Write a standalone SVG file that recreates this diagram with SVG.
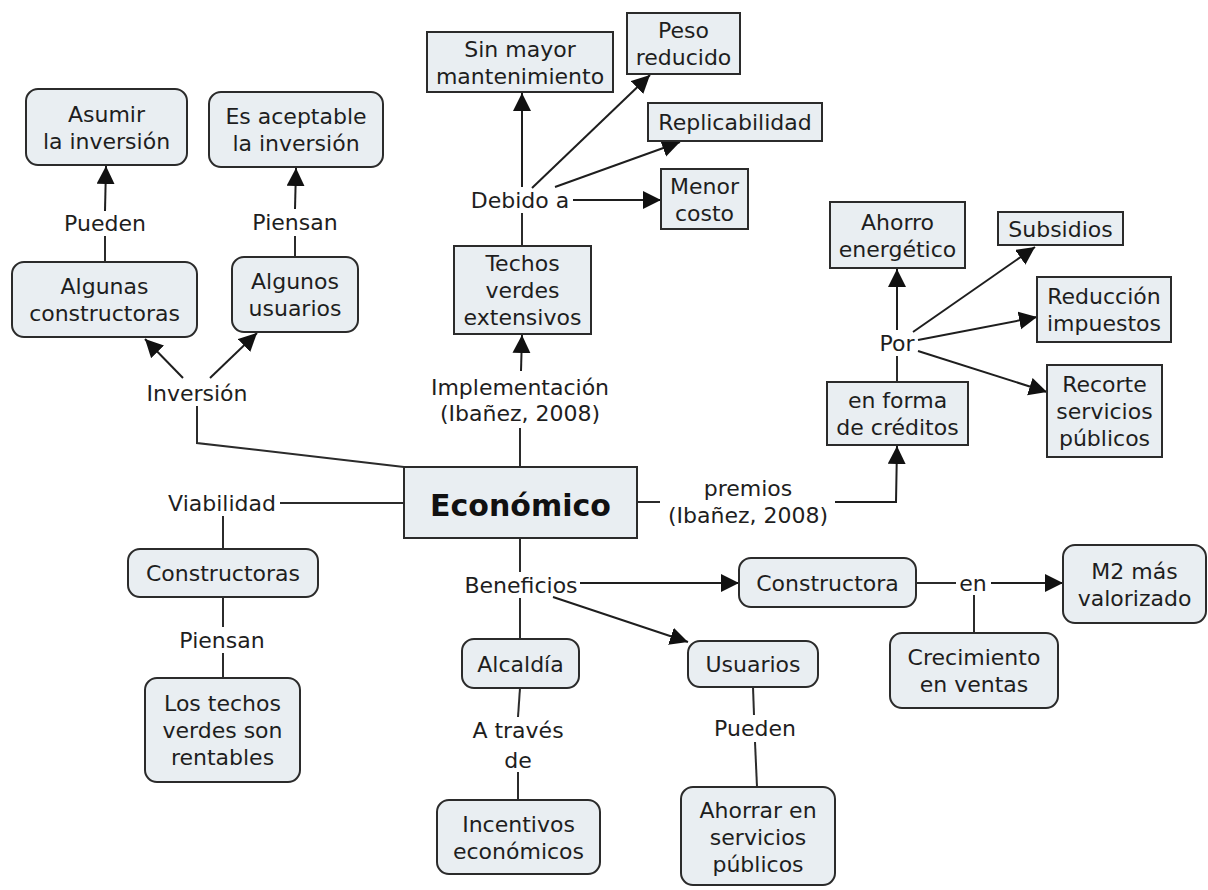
<svg xmlns="http://www.w3.org/2000/svg" width="1208" height="890" viewBox="0 0 1208 890">
<defs>
<marker id="ah" markerUnits="userSpaceOnUse" markerWidth="20" markerHeight="20" refX="18" refY="9" orient="auto">
<path d="M0,0 L18,9 L0,18 z" fill="#111"/>
</marker>
<style>
.bx{fill:#e9eef2;stroke:#2b2b2b;stroke-width:2}
.t{font-family:"DejaVu Sans","Verdana",sans-serif;font-size:22px;fill:#1e1e1e;text-anchor:middle}
.b{font-family:"DejaVu Sans","Verdana",sans-serif;font-size:30px;font-weight:bold;fill:#111;text-anchor:middle}
.ln{fill:none;stroke:#2b2b2b;stroke-width:2}
.ar{fill:none;stroke:#1e1e1e;stroke-width:2;marker-end:url(#ah)}
</style>
</defs>
<rect width="1208" height="890" fill="#fff"/>
<g id="connectors">
<path class="ar" d="M105,211 L106,166"/>
<path class="ln" d="M105,262 L105,236"/>
<path class="ln" d="M295,257 L295,236"/>
<path class="ar" d="M295,209 L296,168"/>
<path class="ar" d="M183,378 L145,339"/>
<path class="ar" d="M210,378 L257,333"/>
<path class="ln" d="M404,467 L197,443 L197,406"/>
<path class="ln" d="M522,246 L522,213"/>
<path class="ar" d="M522,187 L522,93"/>
<path class="ar" d="M532,188 L650,75"/>
<path class="ar" d="M555,187 L680,142"/>
<path class="ar" d="M573,200 L661,200"/>
<path class="ar" d="M521,371 L522,335"/>
<path class="ln" d="M520,467 L520,428"/>
<path class="ln" d="M404,503 L280,503"/>
<path class="ln" d="M223,516 L223,549"/>
<path class="ln" d="M223,597 L223,627"/>
<path class="ln" d="M223,653 L223,678"/>
<path class="ln" d="M520,538 L520,572"/>
<path class="ln" d="M520,598 L520,639"/>
<path class="ar" d="M580,583 L739,583"/>
<path class="ar" d="M553,597 L688,642"/>
<path class="ln" d="M520,688 L518,717"/>
<path class="ln" d="M518,772 L518,800"/>
<path class="ln" d="M753,687 L754,715"/>
<path class="ln" d="M755,742 L757,787"/>
<path class="ln" d="M916,583 L956,583"/>
<path class="ar" d="M991,583 L1063,583"/>
<path class="ln" d="M974,595 L974,633"/>
<path class="ln" d="M637,502 L660,502"/>
<path class="ar" d="M835,502 L896,502 L897,446"/>
<path class="ln" d="M897,382 L897,356"/>
<path class="ar" d="M897,330 L897,269"/>
<path class="ar" d="M913,332 L1035,247"/>
<path class="ar" d="M918,340 L1037,317"/>
<path class="ar" d="M918,351 L1047,392"/>
</g>
<g id="labels">
<text class="t" x="105" y="231">Pueden</text>
<text class="t" x="295" y="230">Piensan</text>
<text class="t" x="197" y="401">Inversión</text>
<text class="t" x="520" y="208">Debido a</text>
<text class="t"><tspan x="520" y="395">Implementación</tspan><tspan x="520" y="421">(Ibañez, 2008)</tspan></text>
<text class="t" x="222" y="511">Viabilidad</text>
<text class="t" x="222" y="648">Piensan</text>
<text class="t" x="521" y="593">Beneficios</text>
<text class="t"><tspan x="518" y="738">A través</tspan><tspan x="518" y="768">de</tspan></text>
<text class="t" x="755" y="736">Pueden</text>
<text class="t" x="973" y="591">en</text>
<text class="t"><tspan x="748" y="496">premios</tspan><tspan x="748" y="523">(Ibañez, 2008)</tspan></text>
<text class="t" x="897" y="351">Por</text>
</g>
<g id="n_asumir"><rect class="bx" x="26" y="89" width="161" height="76" rx="12"/><text class="t"><tspan x="106.5" y="121.5">Asumir</tspan><tspan x="106.5" y="148.5">la inversión</tspan></text></g>
<g id="n_aceptable"><rect class="bx" x="209" y="92" width="174" height="75" rx="12"/><text class="t"><tspan x="296" y="124">Es aceptable</tspan><tspan x="296" y="151">la inversión</tspan></text></g>
<g id="n_algunas"><rect class="bx" x="12" y="262" width="185" height="75" rx="12"/><text class="t"><tspan x="104.5" y="294">Algunas</tspan><tspan x="104.5" y="321">constructoras</tspan></text></g>
<g id="n_algunos"><rect class="bx" x="232" y="257" width="126" height="75" rx="12"/><text class="t"><tspan x="295" y="289">Algunos</tspan><tspan x="295" y="316">usuarios</tspan></text></g>
<g id="n_sinmayor"><rect class="bx" x="427" y="32" width="186" height="60"/><text class="t"><tspan x="520" y="57">Sin mayor</tspan><tspan x="520" y="84">mantenimiento</tspan></text></g>
<g id="n_peso"><rect class="bx" x="627" y="13" width="113" height="61"/><text class="t"><tspan x="683.5" y="38">Peso</tspan><tspan x="683.5" y="65">reducido</tspan></text></g>
<g id="n_replic"><rect class="bx" x="648" y="103" width="174" height="38"/><text class="t" x="735" y="130">Replicabilidad</text></g>
<g id="n_menor"><rect class="bx" x="661" y="169" width="87" height="60"/><text class="t"><tspan x="704.5" y="193.5">Menor</tspan><tspan x="704.5" y="220.5">costo</tspan></text></g>
<g id="n_techos"><rect class="bx" x="454" y="246" width="137" height="88"/><text class="t"><tspan x="522.5" y="271">Techos</tspan><tspan x="522.5" y="298">verdes</tspan><tspan x="522.5" y="325">extensivos</tspan></text></g>
<g id="n_economico"><rect class="bx" x="404" y="467" width="233" height="71"/><text class="b" x="520.5" y="516">Económico</text></g>
<g id="n_constructoras"><rect class="bx" x="128" y="549" width="190" height="48" rx="12"/><text class="t" x="223" y="581">Constructoras</text></g>
<g id="n_lostechos"><rect class="bx" x="145" y="678" width="155" height="104" rx="12"/><text class="t"><tspan x="222.5" y="711">Los techos</tspan><tspan x="222.5" y="738">verdes son</tspan><tspan x="222.5" y="765">rentables</tspan></text></g>
<g id="n_alcaldia"><rect class="bx" x="462" y="639" width="117" height="49" rx="12"/><text class="t" x="520.5" y="671.5">Alcaldía</text></g>
<g id="n_incentivos"><rect class="bx" x="437" y="800" width="163" height="74" rx="12"/><text class="t"><tspan x="518.5" y="831.5">Incentivos</tspan><tspan x="518.5" y="858.5">económicos</tspan></text></g>
<g id="n_usuarios"><rect class="bx" x="688" y="641" width="130" height="46" rx="12"/><text class="t" x="753" y="672">Usuarios</text></g>
<g id="n_ahorrar"><rect class="bx" x="681" y="787" width="154" height="98" rx="12"/><text class="t"><tspan x="758" y="818">Ahorrar en</tspan><tspan x="758" y="845">servicios</tspan><tspan x="758" y="872">públicos</tspan></text></g>
<g id="n_constructora"><rect class="bx" x="739" y="558" width="177" height="49" rx="12"/><text class="t" x="827.5" y="590.5">Constructora</text></g>
<g id="n_m2"><rect class="bx" x="1063" y="545" width="143" height="78" rx="12"/><text class="t"><tspan x="1134.5" y="578.5">M2 más</tspan><tspan x="1134.5" y="605.5">valorizado</tspan></text></g>
<g id="n_crecimiento"><rect class="bx" x="890" y="633" width="168" height="75" rx="12"/><text class="t"><tspan x="974" y="665">Crecimiento</tspan><tspan x="974" y="692">en ventas</tspan></text></g>
<g id="n_creditos"><rect class="bx" x="827" y="382" width="141" height="63"/><text class="t"><tspan x="897.5" y="408">en forma</tspan><tspan x="897.5" y="435">de créditos</tspan></text></g>
<g id="n_ahorro"><rect class="bx" x="830" y="202" width="135" height="66"/><text class="t"><tspan x="897.5" y="229.5">Ahorro</tspan><tspan x="897.5" y="256.5">energético</tspan></text></g>
<g id="n_subsidios"><rect class="bx" x="998" y="212" width="125" height="33"/><text class="t" x="1060.5" y="236.5">Subsidios</text></g>
<g id="n_reduccion"><rect class="bx" x="1037" y="277" width="134" height="65"/><text class="t"><tspan x="1104" y="304">Reducción</tspan><tspan x="1104" y="331">impuestos</tspan></text></g>
<g id="n_recorte"><rect class="bx" x="1047" y="365" width="115" height="92"/><text class="t"><tspan x="1104.5" y="392">Recorte</tspan><tspan x="1104.5" y="419">servicios</tspan><tspan x="1104.5" y="446">públicos</tspan></text></g>
</svg>
